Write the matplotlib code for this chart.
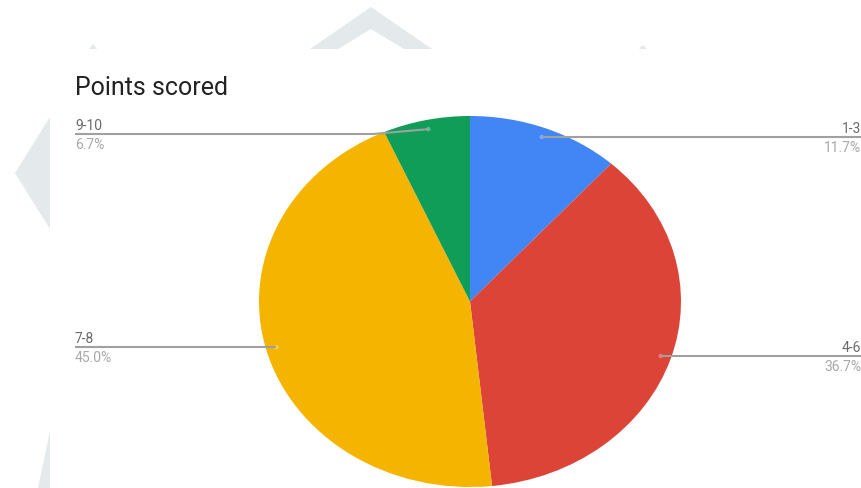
import numpy as np
import matplotlib
matplotlib.use("Agg")
import matplotlib.pyplot as plt
from matplotlib.patches import Polygon, Rectangle, Circle

# Data: score bands and their share of players
categories = ["1-3", "4-6", "7-8", "9-10"]
counts = [7, 22, 27, 4]
pct_labels = ["11.7%", "36.7%", "45.0%", "6.7%"]
colors = ["#4285F4", "#DB4437", "#F4B400", "#0F9D58"]
dot_colors = ["#7FAAF7", "#E77C72", "#F8CD5C", "#5BBE8E"]
title = "Points scored"

W, H = 862, 489
fig = plt.figure(figsize=(W / 100, H / 100), dpi=100)
fig.patch.set_facecolor("white")

# Background layer in pixel coordinates (origin at top-left)
bg = fig.add_axes([0, 0, 1, 1])
bg.set_xlim(0, W)
bg.set_ylim(H, 0)
bg.axis("off")
bg.set_zorder(0)

wm = "#E4E9EB"
# faint decorative shapes behind the chart card
bg.add_patch(Polygon([(310, 50), (371, 8), (432, 50)], closed=True, fc=wm, ec="none"))
bg.add_patch(Polygon([(338, 50), (371, 30), (404, 50)], closed=True, fc="white", ec="none"))
bg.add_patch(Polygon([(50, 118), (15, 174), (50, 230)], closed=True, fc=wm, ec="none"))
bg.add_patch(Polygon([(50, 432), (38, 489), (50, 489)], closed=True, fc=wm, ec="none"))
bg.add_patch(Polygon([(89, 50), (93, 45), (97, 50)], closed=True, fc=wm, ec="none"))
bg.add_patch(Polygon([(639, 50), (643, 46), (647, 50)], closed=True, fc=wm, ec="none"))
# chart card
bg.add_patch(Rectangle((50, 50), W - 50, H - 50, fc="white", ec="none"))

bg.text(75, 88, title, fontsize=18, family="Roboto", color="#222222",
        ha="left", va="center")

# Pie, stretched to an ellipse of 422 x 371 px
cx, cy, rx, ry = 470, 302.5, 211, 185.5
pie_ax = fig.add_axes([(cx - rx) / W, (H - cy - ry) / H, 2 * rx / W, 2 * ry / H])
pie_ax.set_zorder(1)
pie_ax.pie(counts, colors=colors, startangle=90, counterclock=False,
           radius=1, wedgeprops=dict(linewidth=0))
pie_ax.set_aspect("auto")
pie_ax.set_xlim(-1, 1)
pie_ax.set_ylim(-1, 1)
pie_ax.axis("off")
for p in pie_ax.patches:
    p.set_clip_on(False)

# Overlay for leader lines and labels
ov = fig.add_axes([0, 0, 1, 1])
ov.set_xlim(0, W)
ov.set_ylim(H, 0)
ov.axis("off")
ov.set_zorder(2)
ov.patch.set_alpha(0)

total = float(sum(counts))
cum = np.cumsum([0] + counts)
line_col = "#A0A0A0"
lab_col = "#6A6A6A"
pct_col = "#A8A8A8"

# label rows (pixel y of leader line) per slice
line_y = {"1-3": 138, "4-6": 357, "7-8": 348, "9-10": 135}

for i, cat in enumerate(categories):
    mid = (cum[i] + counts[i] / 2) / total * 2 * np.pi
    dx = 0.95 * np.sin(mid)
    dy = 0.95 * np.cos(mid)
    px = cx + dx * rx
    py = cy - dy * ry
    ly = line_y[cat]
    right = dx > 0
    if right:
        xs = [px, W]
        ys = [py, py]
        tx, ha = W - 1, "right"
    else:
        if abs(ly - py) > 2:
            xs = [px, px - 55, 75]
            ys = [py, ly, ly]
        else:
            xs = [px, 75]
            ys = [py, py]
        tx, ha = 75, "left"
    ly_eff = ys[-1]
    ov.plot(xs, ys, color=line_col, lw=1.5, solid_capstyle="butt")
    ov.add_patch(Circle((px, py), 2.2, fc=dot_colors[i], ec="none"))
    ov.text(tx, ly_eff - 9, cat, fontsize=10, family="Roboto", color=lab_col,
            ha=ha, va="center")
    ov.text(tx, ly_eff + 10, pct_labels[i], fontsize=10, family="Roboto",
            color=pct_col, ha=ha, va="center")

fig.savefig("out.png", dpi=100, facecolor="white")
